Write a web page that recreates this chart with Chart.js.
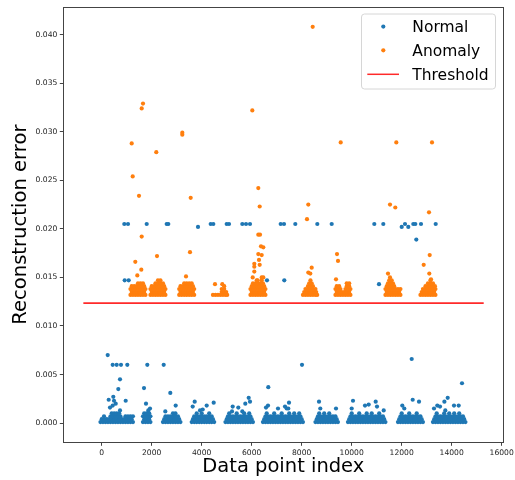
<!DOCTYPE html>
<html>
<head>
<meta charset="utf-8">
<script src="https://cdn.jsdelivr.net/npm/chart.js@4.4.1/dist/chart.umd.min.js"></script>
<style>
  body { margin: 0; background: #fff; }
</style>
</head>
<body>
<canvas id="errchart" width="515" height="480"></canvas>
<script>
// reconstruction error per data point index

// dense bands near zero: one list of indices per error level
const normalLevels = [0.0001, 0.0004, 0.0007, 0.0010];
const normalRows = [
  [-50,50,150,250,350,450,550,650,750,850,950,1050,1150,1250, 1650,1750,1850,1950,
   2450,2550,2650,2750,2850,2950,3050,3150, 3600,3700,3800,3900,4000,4100,4200,4300,4400,4500,
   4950,5050,5150,5250,5350,5450,5550,5650,5750,5850,5950,6050,
   6450,6550,6650,6750,6850,6950,7050,7150,7250,7350,7450,7550,7650,7750,7850,7950,8050,
   8550,8650,8750,8850,8950,9050,9150,9250,9350,9450,
   9850,9950,10050,10150,10250,10350,10450,10550,10650,10750,10850,10950,11050,11150,11250,11350,
   11850,11950,12050,12150,12250,12350,12450,12550,12650,12750,12850,
   13250,13350,13450,13550,13650,13750,13850,13950,14050,14150,14250,14350,14450,14550],
  [0,100,200,300,400,500,600,700,800,900,1000,1100,1200, 1700,1800,1900,
   2500,2600,2700,2800,2900,3000,3100, 3650,3750,3850,3950,4050,4150,4250,4350,4450,
   5000,5100,5200,5300,5400,5500,5600,5700,5800,5900,6000,
   6500,6600,6700,6800,6900,7000,7100,7200,7300,7400,7500,7600,7700,7800,7900,8000,
   8600,8700,8800,8900,9000,9100,9200,9300,9400,
   9900,10000,10100,10200,10300,10400,10500,10600,10700,10800,10900,11000,11100,11200,11300,
   11900,12000,12100,12200,12300,12400,12500,12600,12700,12800,
   13300,13400,13500,13600,13700,13800,13900,14000,14100,14200,14300,14400,14500],
  [350,450,550,650,750,950,1050,1150,1250, 1650,1750,1850,1950,
   2550,2650,2750,2850,2950,3050, 3700,3800,3900,4000,4100,4200,4300,4400,
   5050,5150,5250,5350,5450,5550,5650,5750,5850,5950,
   6550,6650,6750,6850,6950,7050,7150,7250,7350,7450,7550,7650,7750,7850,7950,
   8650,8750,8850,8950,9050,9150,9250,9350,
   9950,10050,10150,10250,10350,10450,10550,10650,10750,10850,10950,11050,11150,11250,
   11950,12050,12150,12250,12350,12450,12550,12650,12750,
   13350,13450,13550,13650,13750,13850,13950,14050,14150,14250,14350,14450],
  [400,500,600,700, 1700,1800,1900, 2850,2950, 3800,4000,4300, 5100,5400,5700,5900,
   6600,6900,7200,7500,7700,7900, 8700,8900,9100, 10000,10300,10600,10800,11100,
   12000,12300,12600, 13400,13700,13900,14100,14300]
];
const normalScatter = [
  [904,0.0205],[1052,0.0205],[1800,0.0205],[2600,0.0205],[2664,0.0205],[4360,0.0205],[4464,0.0205],
  [5000,0.0205],[5092,0.0205],[5624,0.0205],[5772,0.0205],[5932,0.0205],[7160,0.0205],[7292,0.0205],
  [7744,0.0205],[8624,0.0205],[9200,0.0205],[10904,0.0205],[11264,0.0205],[12132,0.0205],[12464,0.0205],
  [12544,0.0205],[12772,0.0205],[13360,0.0205],[3852,0.0202],[12000,0.0202],[12264,0.0202],[12584,0.0189],
  [920,0.0147],[1080,0.0147],[6612,0.0147],[7304,0.0147],[11092,0.0143],
  [240,0.0070],[440,0.0060],[600,0.0060],[772,0.0060],[1024,0.0060],[1824,0.0060],[2480,0.0060],
  [8012,0.0060],[12400,0.0066],[732,0.0045],[14412,0.0041],[664,0.0035],[1692,0.0036],[6664,0.0037],
  [2744,0.0031],[464,0.0027],[280,0.0024],[492,0.0023],[560,0.0020],[960,0.0023],[1772,0.0020],
  [1932,0.0015],[1864,0.0013],[2960,0.0018],[2544,0.0012],[332,0.0016],[440,0.0018],[92,0.0007],
  [732,0.0013],[3720,0.0022],[3640,0.0017],[4200,0.0018],[4040,0.0014],[3932,0.0013],[4480,0.0021],
  [5880,0.0026],[5932,0.0022],[5744,0.0020],[5240,0.0017],[5212,0.0012],[5464,0.0016],[5624,0.0012],
  [6652,0.0018],[6572,0.0016],[7052,0.0015],[7492,0.0021],[7332,0.0017],[7400,0.0015],[7464,0.0015],
  [8692,0.0022],[8744,0.0015],[9372,0.0015],[10052,0.0023],[10000,0.0015],[10532,0.0018],[10680,0.0019],
  [10960,0.0022],[11012,0.0017],[11280,0.0013],[12440,0.0024],[12692,0.0022],[12024,0.0018],[12104,0.0015],
  [13840,0.0026],[13708,0.0022],[13424,0.0018],[13532,0.0017],[13292,0.0015],[14092,0.0018],[14280,0.0018],
  [13744,0.0013]
];

// anomaly bands just above the threshold
const anomalyLevels = [0.0132, 0.0135, 0.0138, 0.0141, 0.0144, 0.0147];
const anomalyRows = [
  [1150,1250,1350,1450,1550,1650,1750, 1950,2050,2150,2250,2350,2450,2550,
   3100,3200,3300,3400,3500,3600,3700, 4450,4550,4650,4750,4850,4950,5020,
   5950,6050,6150,6250,6350,6450,6550, 8050,8150,8250,8350,8450,8550,8620,
   9350,9450,9550,9650,9750,9850,9950, 11350,11450,11550,11650,11750,11850,11950,
   12750,12850,12950,13050,13150,13250,13350],
  [1200,1300,1400,1500,1600,1700, 2000,2100,2200,2300,2400,2500,
   3150,3250,3350,3450,3550,3650, 4800,4900,4980, 6000,6100,6200,6300,6400,6500,
   8100,8200,8300,8400,8500,8580, 9400,9500,9600,9700,9800,9900,
   11400,11500,11600,11700,11800,11900, 12800,12900,13000,13100,13200,13300],
  [1150,1250,1350,1450,1550,1650,1750, 1950,2050,2150,2250,2350,2450,2550,
   3100,3200,3300,3400,3500,3600,3700, 4800,4900, 5950,6050,6150,6250,6350,6450,6550,
   8150,8250,8350,8450,8550, 9350,9450,9550,9750,9850,9950,
   11350,11450,11550,11650,11750,11850,11950, 12850,12950,13050,13150,13250,13350],
  [1200,1300,1400,1500,1600,1700, 2000,2100,2200,2300,2400,2500,
   3150,3250,3350,3450,3550,3650, 4900, 6000,6100,6200,6300,6400,6500,
   8250,8350,8450, 9400,9500,9800,9900, 11400,11500,11600,11700,
   12950,13050,13150,13250,13330],
  [1450,1550,1650, 2150,2250,2350,2450, 3300,3400,3500,3600, 6050,6150,6250,6350,6450,
   8300,8400, 9800,9900, 11450,11550,11650, 13050,13150,13250],
  [2250,2350, 6200,6400, 8350, 11500,11600, 13150]
];
const anomalyScatter = [
  [1344,0.0166],[1424,0.0152],[1584,0.0158],[1600,0.0192],[1492,0.0234],[1200,0.0288],[1240,0.0254],
  [1600,0.0324],[1652,0.0329],[2212,0.0172],[2184,0.0279],[3372,0.0151],[3532,0.0176],[3560,0.0232],
  [3224,0.0299],[3224,0.0297],[4532,0.0143],[4824,0.0143],
  [6024,0.0322],[6264,0.0242],[6320,0.0223],[6264,0.0194],[6332,0.0194],[6372,0.0182],[6464,0.0181],
  [6264,0.0174],[6400,0.0173],[6292,0.0168],[6104,0.0164],[6104,0.0161],[6320,0.0163],[6104,0.0156],
  [6040,0.0150],[6400,0.0150],[6464,0.0150],[6240,0.0147],
  [8440,0.0408],[8264,0.0225],[8212,0.0210],[8400,0.0160],[8264,0.0155],[8344,0.0154],
  [9560,0.0289],[9412,0.0174],[9452,0.0167],[9372,0.0148],
  [11784,0.0289],[11532,0.0225],[11744,0.0222],[11452,0.0154],[11532,0.0150],
  [13212,0.0289],[13092,0.0217],[13120,0.0173],[12880,0.0163],[13104,0.0154],[13172,0.0148]
];

const threshold = 0.01235;
const thresholdSpan = [-734, 15280];

const xTicks = [0, 2000, 4000, 6000, 8000, 10000, 12000, 14000, 16000];
const yTicks = [0, 0.005, 0.010, 0.015, 0.020, 0.025, 0.030, 0.035, 0.040];

function toPoints(levels, rows, extra) {
  const pts = [];
  rows.forEach((xs, i) => xs.forEach(x => pts.push({ x: x, y: levels[i] })));
  extra.forEach(p => pts.push({ x: p[0], y: p[1] }));
  return pts;
}

const FONT = 'DejaVu Sans';
const tickFont = { family: FONT, size: 7.6 };
const spine = '#444';
const DOT = 2.1;

// top and right spines plus the boxed legend
const framePlugin = {
  id: 'frame',
  afterDraw(chart) {
    const { ctx, chartArea: a } = chart;
    ctx.save();
    ctx.strokeStyle = spine;
    ctx.lineWidth = 1;
    ctx.strokeRect(Math.round(a.left) + 0.5, Math.round(a.top) + 0.5,
      Math.round(a.right - a.left), Math.round(a.bottom - a.top));

    // legend
    const bx = 361.5, by = 14, bw = 134, bh = 75, r = 3;
    ctx.beginPath();
    ctx.moveTo(bx + r, by);
    ctx.arcTo(bx + bw, by, bx + bw, by + bh, r);
    ctx.arcTo(bx + bw, by + bh, bx, by + bh, r);
    ctx.arcTo(bx, by + bh, bx, by, r);
    ctx.arcTo(bx, by, bx + bw, by, r);
    ctx.closePath();
    ctx.fillStyle = 'rgba(255,255,255,0.85)';
    ctx.fill();
    ctx.strokeStyle = '#d6d6d6';
    ctx.stroke();

    const ds = chart.data.datasets;
    const rowsY = [32.3, 56, 80];
    ctx.font = '15.5px "' + FONT + '"';
    ctx.textBaseline = 'alphabetic';
    ctx.textAlign = 'left';
    ds.forEach((d, i) => {
      const cy = rowsY[i] - 5.7;
      if (d.showLine) {
        ctx.beginPath();
        ctx.moveTo(367.3, cy);
        ctx.lineTo(399, cy);
        ctx.strokeStyle = d.borderColor;
        ctx.lineWidth = 1.5;
        ctx.stroke();
      } else {
        ctx.beginPath();
        ctx.arc(383.3, cy, DOT, 0, Math.PI * 2);
        ctx.fillStyle = d.backgroundColor;
        ctx.fill();
      }
      ctx.fillStyle = '#000';
      ctx.fillText(d.label, 412.3, rowsY[i]);
    });
    ctx.restore();
  }
};

new Chart(document.getElementById('errchart'), {
  type: 'scatter',
  data: {
    datasets: [
      {
        label: 'Normal',
        data: toPoints(normalLevels, normalRows, normalScatter),
        backgroundColor: '#1f77b4',
        borderWidth: 0,
        pointRadius: DOT,
        order: 2
      },
      {
        label: 'Anomaly',
        data: toPoints(anomalyLevels, anomalyRows, anomalyScatter),
        backgroundColor: '#ff7f0e',
        borderWidth: 0,
        pointRadius: DOT,
        order: 1
      },
      {
        label: 'Threshold',
        data: thresholdSpan.map(x => ({ x: x, y: threshold })),
        showLine: true,
        borderColor: '#ff2a2a',
        borderWidth: 1.7,
        pointRadius: 0,
        order: 0
      }
    ]
  },
  options: {
    responsive: false,
    animation: false,
    layout: { padding: { top: 5.7, right: 11.7, bottom: 0, left: 0 } },
    plugins: { legend: { display: false }, tooltip: { enabled: false } },
    scales: {
      x: {
        type: 'linear',
        min: -1536,
        max: 16064,
        afterBuildTicks: s => { s.ticks = xTicks.map(v => ({ value: v })); },
        afterFit: s => { s.height = 37.7; s.paddingLeft = 0; s.paddingRight = 0; },
        ticks: { font: tickFont, color: '#222', padding: 2.5, maxRotation: 0, autoSkip: false,
                 callback: v => String(v) },
        grid: { drawOnChartArea: false, drawTicks: true, tickLength: 3.5, color: spine },
        border: { color: spine, width: 1 },
        title: { display: true, text: 'Data point index', color: '#000',
                 font: { family: FONT, size: 19.5 }, padding: { top: 0, bottom: 1.5 } }
      },
      y: {
        type: 'linear',
        min: -0.00198,
        max: 0.04284,
        afterBuildTicks: s => { s.ticks = yTicks.map(v => ({ value: v })); },
        afterFit: s => { s.width = 63.3; },
        ticks: { font: tickFont, color: '#222', padding: 2.5, callback: v => v.toFixed(3) },
        grid: { drawOnChartArea: false, drawTicks: true, tickLength: 3.5, color: spine },
        border: { color: spine, width: 1 },
        title: { display: true, text: 'Reconstruction error', color: '#000',
                 font: { family: FONT, size: 19.6 }, padding: { top: 9.5, bottom: 0 } }
      }
    }
  },
  plugins: [framePlugin]
});
</script>
</body>
</html>
